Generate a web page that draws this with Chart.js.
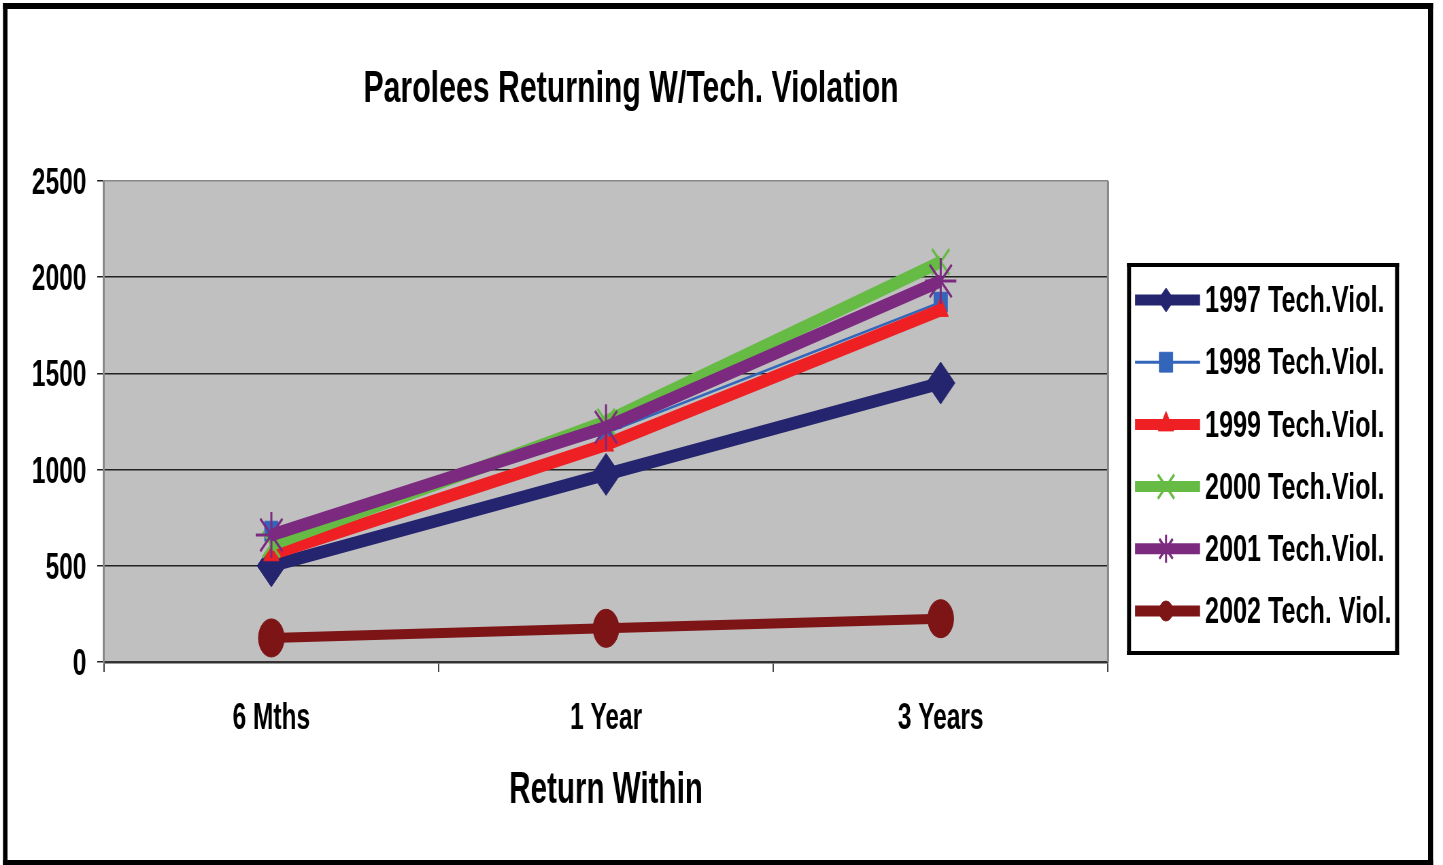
<!DOCTYPE html>
<html>
<head>
<meta charset="utf-8">
<script src="https://cdn.jsdelivr.net/npm/chart.js@4/dist/chart.umd.min.js"></script>
<style>
  html, body { margin: 0; padding: 0; background: #fff; overflow: hidden; }
  #chart { display: block; }
</style>
</head>
<body>
<canvas id="chart" width="2122" height="865" style="width:1443px;height:865px"></canvas>
<script>
// data
const categories = ["6 Mths", "1 Year", "3 Years"];
const seriesNames = ["1997 Tech.Viol.", "1998 Tech.Viol.", "1999 Tech.Viol.", "2000 Tech.Viol.", "2001 Tech.Viol.", "2002 Tech. Viol."];
const v1997 = [500, 975, 1450];
const v1998 = [680, 1190, 1870];
const v1999 = [560, 1130, 1830];
const v2000 = [610, 1250, 2080];
const v2001 = [660, 1220, 1980];
const v2002 = [125, 175, 225];
const yMin = 0, yMax = 2500, yStep = 500;

const titleText = "Parolees Returning W/Tech. Violation";
const xTitleText = "Return Within";

// the original picture is squeezed sideways, so the canvas is drawn wide and shown narrow
const SQ = 0.68;
function sx(x) { return x / SQ; }
const FONT = "'Liberation Sans', Arial, sans-serif";

const styles = [
  { color: "#25256f", line: 13, legLine: 11, shape: "rectRot", r: 21, legR: 12, bw: 1 },
  { color: "#3366bb", line: 2.5, legLine: 3, shape: "rect", r: 14, legR: 14, bw: 1 },
  { color: "#ee2024", line: 13, legLine: 11, shape: "triangle", r: 13, legR: 13, bw: 1 },
  { color: "#66bb44", line: 13, legLine: 11, shape: "crossRot", r: 18, legR: 17, bw: 3 },
  { color: "#7b2a80", line: 13, legLine: 11, shape: "star", r: 23, legR: 14, bw: 3 },
  { color: "#7d1416", line: 10, legLine: 11, shape: "circle", r: 19, legR: 10, bw: 1 }
];
const allValues = [v1997, v1998, v1999, v2000, v2001, v2002];

const datasets = allValues.map(function (vals, i) {
  const s = styles[i];
  return {
    label: seriesNames[i],
    data: vals,
    borderColor: s.color,
    backgroundColor: s.color,
    borderWidth: s.line,
    tension: 0,
    fill: false,
    pointStyle: s.shape,
    pointRadius: s.r,
    pointHoverRadius: s.r,
    pointBackgroundColor: s.color,
    pointBorderColor: s.color,
    pointBorderWidth: s.bw,
    order: -i,
    clip: false
  };
});

const decor = {
  id: "decor",
  beforeDraw(chart) {
    const ctx = chart.ctx;
    const a = chart.chartArea;
    ctx.save();
    ctx.fillStyle = "#fff";
    ctx.fillRect(0, 0, chart.width, chart.height);
    ctx.fillStyle = "#c0c0c0";
    ctx.fillRect(a.left, a.top, a.right - a.left, a.bottom - a.top);
    ctx.restore();
  },
  afterDraw(chart) {
    const ctx = chart.ctx;
    const a = chart.chartArea;
    ctx.save();
    // right edge of plot
    ctx.fillStyle = "#888";
    ctx.fillRect(a.right - 1.5, a.top, 3, a.bottom - a.top);

    // outer frame
    ctx.fillStyle = "#000";
    ctx.fillRect(sx(3), 3, sx(1433) - sx(3), 6);
    ctx.fillRect(sx(3), 860, sx(1433) - sx(3), 5);
    ctx.fillRect(sx(3), 3, sx(4.5), 862);
    ctx.fillRect(sx(1428), 3, sx(5), 862);

    // title
    ctx.fillStyle = "#000";
    ctx.font = "bold 44.5px " + FONT;
    ctx.textAlign = "center";
    ctx.textBaseline = "middle";
    ctx.fillText(titleText, sx(631), 90);

    // legend box
    const bx0 = sx(1127), bx1 = sx(1399), by0 = 263, by1 = 655;
    ctx.fillStyle = "#000";
    ctx.fillRect(bx0, by0, bx1 - bx0, 4);
    ctx.fillRect(bx0, by1 - 4, bx1 - bx0, 4);
    ctx.fillRect(bx0, by0, sx(4), by1 - by0);
    ctx.fillRect(bx1 - sx(4), by0, sx(4), by1 - by0);

    chart.data.datasets.forEach(function (ds, i) {
      const s = styles[i];
      const y = 300 + i * 62.2;
      ctx.strokeStyle = s.color;
      ctx.lineWidth = s.legLine;
      ctx.beginPath();
      ctx.moveTo(sx(1135), y);
      ctx.lineTo(sx(1200), y);
      ctx.stroke();
      ctx.fillStyle = s.color;
      ctx.lineWidth = s.bw;
      Chart.helpers.drawPoint(ctx, { pointStyle: s.shape, radius: s.legR, borderWidth: s.bw, rotation: 0 }, sx(1166), y);
      ctx.fillStyle = "#000";
      ctx.font = "bold 37px " + FONT;
      ctx.textAlign = "left";
      ctx.textBaseline = "middle";
      ctx.fillText(ds.label, sx(1205), y + 2);
    });
    ctx.restore();
  }
};

const ctx = document.getElementById("chart").getContext("2d");
const myChart = new Chart(ctx, {
  type: "line",
  data: {
    labels: categories,
    datasets: datasets
  },
  options: {
    responsive: false,
    animation: false,
    devicePixelRatio: 1,
    layout: {
      padding: { top: 181, right: 2122 - sx(1108), left: 0, bottom: 0 }
    },
    plugins: {
      legend: { display: false },
      title: { display: false },
      tooltip: { enabled: false }
    },
    scales: {
      x: {
        type: "category",
        offset: true,
        grid: {
          offset: true,
          drawOnChartArea: false,
          drawTicks: true,
          tickLength: 10,
          color: "#444",
          lineWidth: 2
        },
        border: { display: true, color: "#333", width: 2.5 },
        ticks: {
          color: "#000",
          font: { family: FONT, size: 36, weight: "bold" },
          padding: 25,
          maxRotation: 0,
          autoSkip: false
        },
        title: {
          display: true,
          text: xTitleText,
          color: "#000",
          font: { family: FONT, size: 43.5, weight: "bold" },
          padding: { top: 0, bottom: 48 }
        },
        afterFit: function (scale) {
          scale.height = 865 - 662;
        }
      },
      y: {
        min: yMin,
        max: yMax,
        ticks: {
          stepSize: yStep,
          color: "#000",
          font: { family: FONT, size: 36, weight: "bold" },
          padding: 16,
          labelOffset: 3,
          callback: function (v) { return String(v); }
        },
        grid: {
          color: function (c) {
            return c.tick && c.tick.value === yMax ? "#888" : "#222";
          },
          lineWidth: 1.5,
          tickLength: 10,
          tickColor: "#222",
          tickWidth: 1.5
        },
        border: { display: true, color: "#888", width: 3 },
        afterFit: function (scale) {
          scale.width = sx(104);
        }
      }
    }
  },
  plugins: [decor]
});
</script>
</body>
</html>
